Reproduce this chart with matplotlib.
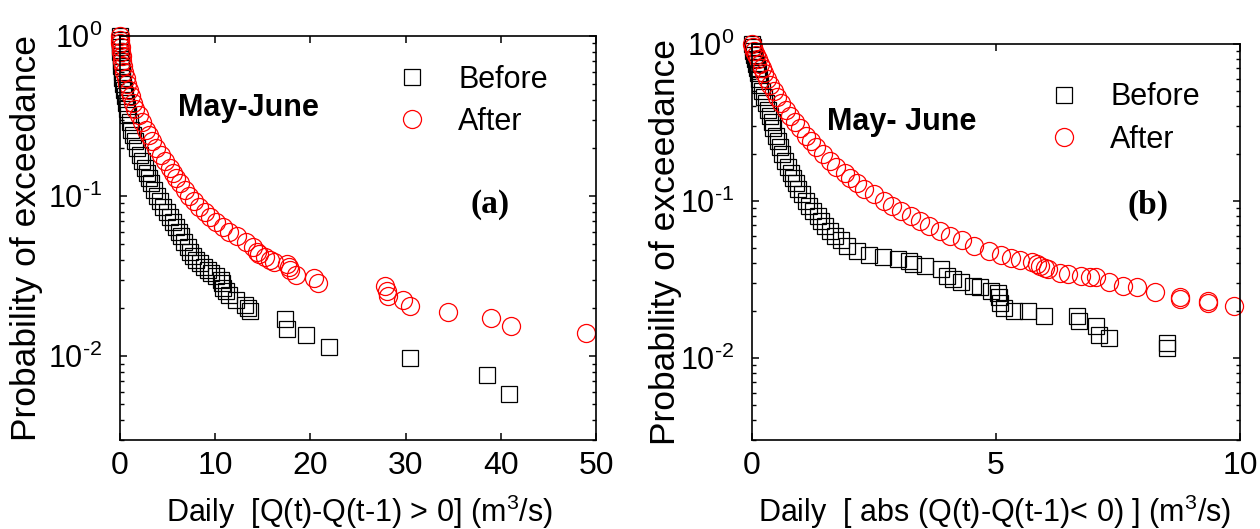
import numpy as np
import matplotlib
matplotlib.use("Agg")
import matplotlib.pyplot as plt
from matplotlib.ticker import LogLocator, NullFormatter, FixedLocator, FuncFormatter

plt.rcParams['font.family'] = ['Liberation Sans', 'DejaVu Sans']
plt.rcParams['mathtext.fontset'] = 'custom'
plt.rcParams['mathtext.rm'] = 'Liberation Sans'
plt.rcParams['mathtext.it'] = 'Liberation Sans:italic'
plt.rcParams['mathtext.bf'] = 'Liberation Sans:bold'

# exceedance probability levels
p_dense = [1.0, 0.95, 0.9, 0.85, 0.8, 0.75, 0.7, 0.65, 0.6, 0.55, 0.5, 0.46,
           0.42, 0.38, 0.35, 0.32, 0.29, 0.26, 0.24, 0.22, 0.2, 0.18, 0.165,
           0.15, 0.14, 0.13, 0.12, 0.11, 0.1, 0.093, 0.086, 0.08, 0.074,
           0.069, 0.064, 0.06, 0.056, 0.052, 0.048, 0.045]

# ---- panel (a): rises, Q(t)-Q(t-1) > 0 ----
a_before_x = [0.0, 0.01, 0.02, 0.035, 0.05, 0.07, 0.1, 0.13, 0.17, 0.23, 0.3,
              0.38, 0.48, 0.6, 0.72, 0.85, 1.0, 1.2, 1.35, 1.55, 1.8, 2.05,
              2.3, 2.6, 2.8, 3.05, 3.3, 3.6, 3.9, 4.2, 4.55, 4.9, 5.25, 5.6,
              5.9, 6.15, 6.4, 6.7, 7.1, 7.4,
              7.7, 8.0, 8.4, 8.8, 9.2, 9.6, 10.1, 10.6, 10.7, 10.8, 11.1,
              11.4, 12.2, 13.1, 13.4, 13.7, 17.3, 17.5, 19.5, 22.0, 30.5,
              38.5, 40.9]
a_before_p = p_dense + [0.042, 0.04, 0.038, 0.036, 0.0345, 0.033, 0.0315,
                        0.03, 0.0285, 0.0266, 0.0255, 0.0242, 0.0225, 0.021,
                        0.02, 0.0192, 0.017, 0.0148, 0.0135, 0.0114, 0.0097,
                        0.0076, 0.0058]

a_after_x = [0.0, 0.02, 0.05, 0.08, 0.12, 0.18, 0.25, 0.34, 0.45, 0.58, 0.75,
             0.92, 1.15, 1.4, 1.62, 1.95, 2.3, 2.7, 3.0, 3.4, 3.8, 4.3, 4.7,
             5.2, 5.55, 5.9, 6.3, 6.8, 7.3, 7.8, 8.3, 8.9, 9.5, 10.1, 10.8,
             11.4, 12.3, 13.2, 14.0, 14.4,
             14.6, 15.2, 15.8, 16.2, 17.5, 17.7, 17.9, 18.5, 20.4, 20.8,
             27.8, 28.0, 28.2, 29.7, 30.5, 34.5, 39.0, 41.1, 49.0]
a_after_p = p_dense + [0.0437, 0.0417, 0.0398, 0.0388, 0.0379, 0.0361,
                       0.0345, 0.0321, 0.0307, 0.0286, 0.0273, 0.0254,
                       0.0237, 0.0226, 0.0206, 0.0188, 0.0174, 0.0155, 0.0139]

# ---- panel (b): falls, abs(Q(t)-Q(t-1) < 0) ----
b_before_x = [0.0, 0.015, 0.03, 0.045, 0.06, 0.08, 0.1, 0.12, 0.14, 0.17,
              0.2, 0.24, 0.28, 0.32, 0.36, 0.4, 0.44, 0.49, 0.53, 0.57, 0.62,
              0.68, 0.74, 0.8, 0.85, 0.9, 0.95, 1.02, 1.1, 1.17, 1.25, 1.35,
              1.42, 1.5, 1.6, 1.7, 1.82, 1.95, 2.15, 2.4,
              2.69, 3.0, 3.22, 3.3, 3.55, 3.87, 3.99, 4.12, 4.28, 4.52, 4.68,
              4.89, 5.05, 5.07, 5.09, 5.17, 5.37, 5.66, 5.98, 6.67, 6.71,
              7.04, 7.12, 7.32, 8.5, 8.5]
b_before_p = p_dense + [0.0438, 0.0427, 0.0415, 0.0396, 0.0385, 0.0368,
                        0.0333, 0.0318, 0.0303, 0.0288, 0.0281, 0.0268,
                        0.0261, 0.0245, 0.0225, 0.0209, 0.0199, 0.0199,
                        0.0185, 0.0185, 0.0172, 0.016, 0.0141, 0.0134,
                        0.0125, 0.0116]

b_after_x = [0.0, 0.025, 0.05, 0.085, 0.12, 0.16, 0.2, 0.25, 0.3, 0.37, 0.45,
             0.52, 0.6, 0.7, 0.78, 0.88, 0.98, 1.1, 1.2, 1.32, 1.45, 1.6,
             1.73, 1.9, 2.0, 2.15, 2.3, 2.5, 2.7, 2.87, 3.05, 3.25, 3.45,
             3.62, 3.85, 4.05, 4.3, 4.55, 4.85, 5.1,
             5.3, 5.5, 5.74, 5.85, 5.9, 6.0, 6.06, 6.31, 6.47, 6.75, 6.92,
             7.04, 7.32, 7.61, 7.89, 8.25, 8.78, 8.78, 9.35, 9.35, 9.88]
b_after_p = p_dense + [0.0434, 0.042, 0.0407, 0.0395, 0.0387, 0.0375,
                       0.0368, 0.035, 0.0342, 0.0334, 0.0329, 0.0326,
                       0.0303, 0.0288, 0.0285, 0.0262, 0.0245, 0.0238,
                       0.0232, 0.0224, 0.0214]

a_xticks = [0, 10, 20, 30, 40, 50]
b_xticks = [0, 5, 10]
y_major = [1e-2, 1e-1, 1]

W, H = 1260, 529
fig = plt.figure(figsize=(W / 100, H / 100), dpi=100)


def px_axes(l, r, t, b):
    return fig.add_axes([l / W, 1 - b / H, (r - l) / W, (b - t) / H])


def pow_label(v, pos):
    e = int(round(np.log10(v)))
    if e < 0:
        return r'$10^{\text{-}%d}$' % (-e)
    return r'$10^{%d}$' % e


def draw_panel(ax, xb, pb, xa, pa, xmax, xticks):
    ax.plot(xb, pb, ls='none', marker='s', ms=11.5, mfc='none', mec='black',
            mew=0.9, clip_on=False, label='Before')
    ax.plot(xa, pa, ls='none', marker='o', ms=13, mfc='none', mec='red',
            mew=0.9, clip_on=False, label='After')
    ax.set_yscale('log')
    ax.set_ylim(0.003, 1)
    ax.set_xlim(0, xmax)
    ax.set_xticks(xticks)
    ax.set_xticklabels([str(v) for v in xticks])
    ax.yaxis.set_major_locator(FixedLocator(y_major))
    ax.yaxis.set_major_formatter(FuncFormatter(pow_label))
    ax.yaxis.set_minor_locator(LogLocator(base=10, subs=np.arange(2, 10)))
    ax.yaxis.set_minor_formatter(NullFormatter())
    ax.tick_params(which='both', direction='in', top=True, right=True,
                   colors='black')
    ax.tick_params(which='major', length=5, width=1.1)
    ax.tick_params(which='minor', length=3, width=1.0)
    ax.tick_params(axis='x', pad=8, labelsize=23)
    ax.tick_params(axis='y', pad=13, labelsize=22)
    for s in ax.spines.values():
        s.set_linewidth(1.2)


ax1 = px_axes(120, 596, 36, 440)
draw_panel(ax1, a_before_x, a_before_p, a_after_x, a_after_p, 50, a_xticks)
ax1.text(0.269, 0.822, 'May-June', transform=ax1.transAxes, fontsize=22,
         fontweight='bold', ha='center', va='center')
ax1.text(0.777, 0.582, '(a)', transform=ax1.transAxes, fontsize=24,
         fontweight='bold', family='Liberation Serif', ha='center', va='center')
ax1.legend(loc='center left', bbox_to_anchor=(0.582, 0.84), frameon=False,
           fontsize=22, handlelength=1.0, handletextpad=1.0, labelspacing=0.4,
           borderpad=0, borderaxespad=0)
ax1.text(-0.197, 0.5, 'Probability of exceedance', transform=ax1.transAxes,
         fontsize=25.5, rotation=90, ha='center', va='center')
ax1.text(0.502, -0.178, r'Daily  [Q(t)-Q(t-1) > 0] (m$^3$/s)',
         transform=ax1.transAxes, fontsize=22, ha='center', va='center')

ax2 = px_axes(752, 1240, 44, 440)
draw_panel(ax2, b_before_x, b_before_p, b_after_x, b_after_p, 10, b_xticks)
ax2.text(0.307, 0.803, 'May- June', transform=ax2.transAxes, fontsize=22,
         fontweight='bold', ha='center', va='center')
ax2.text(0.811, 0.593, '(b)', transform=ax2.transAxes, fontsize=24,
         fontweight='bold', family='Liberation Serif', ha='center', va='center')
ax2.legend(loc='center left', bbox_to_anchor=(0.609, 0.812), frameon=False,
           fontsize=22, handlelength=1.0, handletextpad=1.0, labelspacing=0.4,
           borderpad=0, borderaxespad=0)
ax2.text(-0.178, 0.5, 'Probability of exceedance', transform=ax2.transAxes,
         fontsize=25.5, rotation=90, ha='center', va='center')
ax2.text(0.498, -0.182, r'Daily  [ abs (Q(t)-Q(t-1)< 0) ] (m$^3$/s)',
         transform=ax2.transAxes, fontsize=22, ha='center', va='center')

fig.savefig('out.png', dpi=100)
